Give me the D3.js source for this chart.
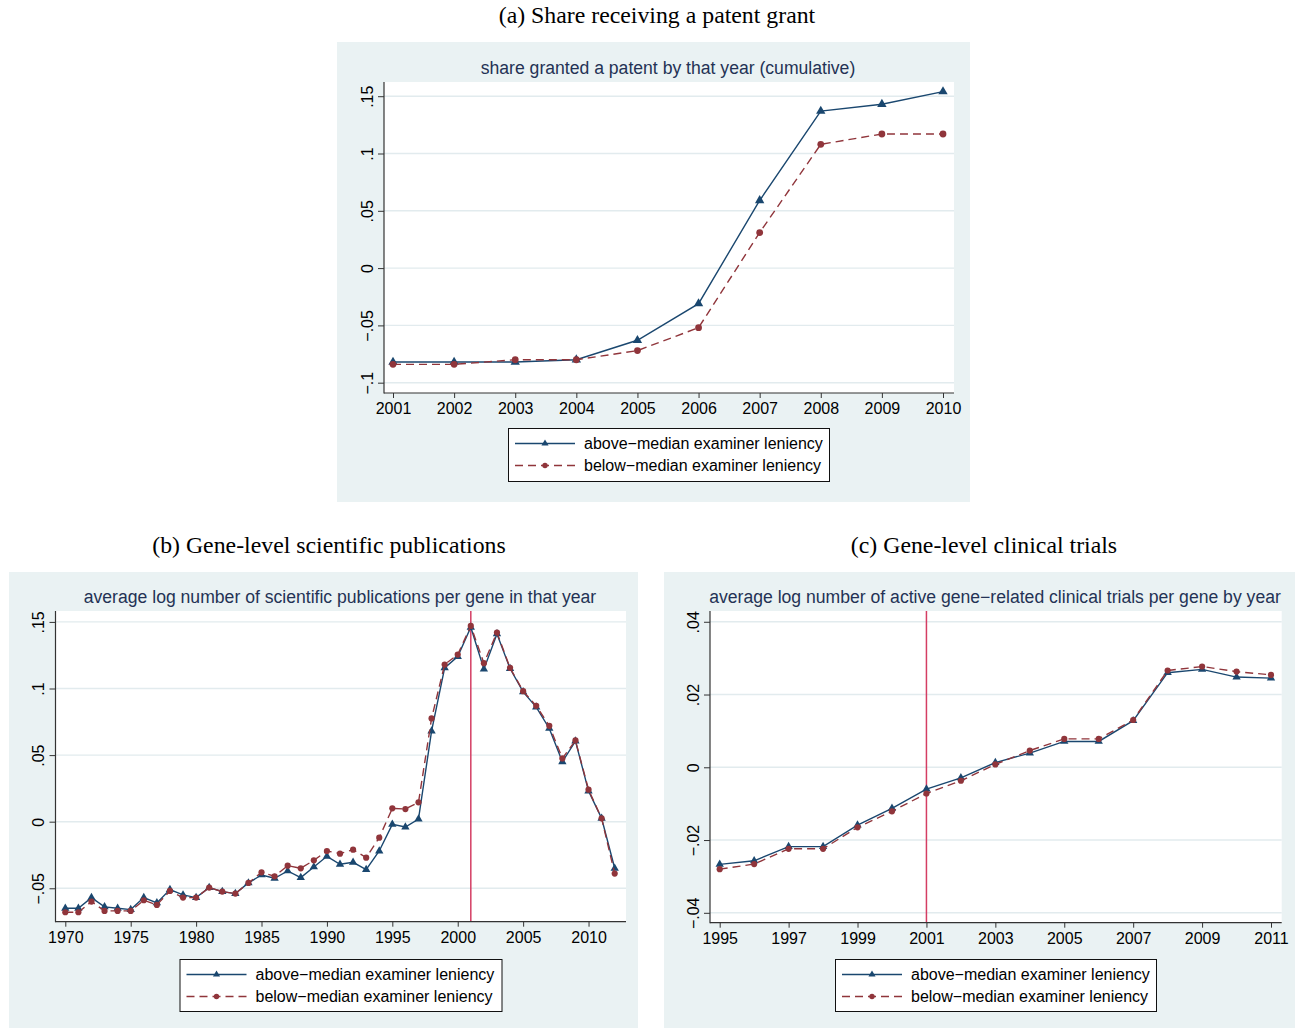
<!DOCTYPE html>
<html>
<head>
<meta charset="utf-8">
<script src="https://cdn.jsdelivr.net/npm/d3@7"></script>
<style>
  html, body { margin: 0; padding: 0; background: #ffffff; }
  svg { display: block; }
</style>
</head>
<body>
<svg id="fig" width="1295" height="1029"></svg>
<script>
// ---- Panel (a): share granted a patent by that year (cumulative) ----
const patentYears = [2001, 2002, 2003, 2004, 2005, 2006, 2007, 2008, 2009, 2010];
const patentAbove = [-0.082, -0.082, -0.082, -0.080, -0.063, -0.031, 0.059, 0.137, 0.143, 0.154];
const patentBelow = [-0.084, -0.084, -0.080, -0.080, -0.072, -0.052, 0.031, 0.108, 0.117, 0.117];
const patentXTicks = [2001, 2002, 2003, 2004, 2005, 2006, 2007, 2008, 2009, 2010];
const patentYTicks = [-0.1, -0.05, 0, 0.05, 0.1, 0.15];

// ---- Panel (b): average log number of publications per gene ----
const pubYears = [1970, 1971, 1972, 1973, 1974, 1975, 1976, 1977, 1978, 1979,
                  1980, 1981, 1982, 1983, 1984, 1985, 1986, 1987, 1988, 1989,
                  1990, 1991, 1992, 1993, 1994, 1995, 1996, 1997, 1998, 1999,
                  2000, 2001, 2002, 2003, 2004, 2005, 2006, 2007, 2008, 2009,
                  2010, 2011, 2012];
const pubAbove = [-0.065, -0.065, -0.057, -0.064, -0.065, -0.066, -0.057, -0.061, -0.051, -0.055,
                  -0.057, -0.0495, -0.0525, -0.054, -0.046, -0.040, -0.0425, -0.037, -0.042, -0.034,
                  -0.026, -0.032, -0.0305, -0.036, -0.022, -0.002, -0.004, 0.002, 0.068, 0.1155,
                  0.124, 0.146, 0.1145, 0.141, 0.115, 0.0975, 0.086, 0.070, 0.045, 0.0605,
                  0.023, 0.0025, -0.035];
const pubBelow = [-0.068, -0.068, -0.060, -0.067, -0.067, -0.067, -0.059, -0.0625, -0.052, -0.057,
                  -0.057, -0.0495, -0.0525, -0.054, -0.046, -0.038, -0.041, -0.033, -0.035, -0.029,
                  -0.022, -0.024, -0.021, -0.027, -0.012, 0.010, 0.0095, 0.0145, 0.0775, 0.118,
                  0.1255, 0.147, 0.119, 0.142, 0.1155, 0.098, 0.087, 0.072, 0.0475, 0.061,
                  0.024, 0.0025, -0.039];
const pubXTicks = [1970, 1975, 1980, 1985, 1990, 1995, 2000, 2005, 2010];
const pubYTicks = [-0.05, 0, 0.05, 0.1, 0.15];

// ---- Panel (c): average log number of active clinical trials per gene ----
const trialYears = [1995, 1996, 1997, 1998, 1999, 2000, 2001, 2002, 2003,
                    2004, 2005, 2006, 2007, 2008, 2009, 2010, 2011];
const trialAbove = [-0.0267, -0.0257, -0.0218, -0.0218, -0.0159, -0.0113, -0.0060, -0.0029, 0.0013,
                    0.0039, 0.0071, 0.0071, 0.0128, 0.0260, 0.0269, 0.0248, 0.0245];
const trialBelow = [-0.0280, -0.0266, -0.0224, -0.0224, -0.0165, -0.0121, -0.0072, -0.0037, 0.0008,
                    0.0046, 0.0078, 0.0078, 0.0130, 0.0266, 0.0277, 0.0263, 0.0254];
const trialXTicks = [1995, 1997, 1999, 2001, 2003, 2005, 2007, 2009, 2011];
const trialYTicks = [-0.04, -0.02, 0, 0.02, 0.04];

// Year in which the reference line is drawn (panels b and c)
const markerYear = 2001;

const seriesNames = ["above\u2212median examiner leniency", "below\u2212median examiner leniency"];

// ---- styling ----
const SANS = "'Liberation Sans', Arial, Helvetica, sans-serif";
const SERIF = "'Liberation Serif', 'Times New Roman', Times, serif";
const COL_BG = "#eaf2f3";
const COL_GRID = "#e2ebee";
const COL_NAVY = "#1a476f";
const COL_MAROON = "#90353b";
const COL_REF = "#d43d63";
const COL_TITLE = "#243255";
const FS_TICK = "16px";
const FS_TITLE = "17.6px";
const FS_CAPTION = "23.8px";

// Stata-style tick labels: ".05", "0", "−.05"
function stataFmt(v) {
  if (Math.abs(v) < 1e-12) return "0";
  let s = String(+v.toFixed(4));
  s = s.replace(/^(-?)0\./, "$1.");
  return s.replace("-", "\u2212");
}

const svg = d3.select("#fig");

function drawPanel(cfg) {
  const g = svg.append("g");

  // outer graph region
  g.append("rect")
    .attr("x", cfg.box.x).attr("y", cfg.box.y)
    .attr("width", cfg.box.w).attr("height", cfg.box.h)
    .attr("fill", COL_BG);

  // caption above the graph
  g.append("text")
    .attr("x", cfg.caption.x).attr("y", cfg.caption.y)
    .attr("text-anchor", "middle")
    .attr("font-family", SERIF).attr("font-size", FS_CAPTION)
    .attr("fill", "#000")
    .text(cfg.caption.text);

  // inner title
  g.append("text")
    .attr("x", cfg.title.x).attr("y", cfg.title.y)
    .attr("text-anchor", "middle")
    .attr("font-family", SANS).attr("font-size", FS_TITLE)
    .attr("fill", COL_TITLE)
    .text(cfg.title.text);

  const p = cfg.plot;
  // plot region
  g.append("rect")
    .attr("x", p.l).attr("y", p.t)
    .attr("width", p.r - p.l).attr("height", p.b - p.t)
    .attr("fill", "#ffffff");

  const x = d3.scaleLinear().domain(cfg.xDomain).range(cfg.xRange);
  const y = d3.scaleLinear().domain(cfg.yDomain).range([p.b, p.t]);

  // horizontal grid lines at the y ticks
  g.append("g").selectAll("line")
    .data(cfg.yTicks).join("line")
    .attr("x1", p.l).attr("x2", p.r)
    .attr("y1", d => y(d)).attr("y2", d => y(d))
    .attr("stroke", COL_GRID).attr("stroke-width", 1.4);

  // reference line
  if (cfg.refYear != null) {
    g.append("line")
      .attr("x1", x(cfg.refYear)).attr("x2", x(cfg.refYear))
      .attr("y1", p.t).attr("y2", p.b)
      .attr("stroke", COL_REF).attr("stroke-width", 1.5);
  }

  // y axis
  const yAxis = g.append("g")
    .attr("transform", `translate(${p.l},0)`)
    .call(d3.axisLeft(y).tickValues(cfg.yTicks).tickFormat(stataFmt)
      .tickSize(6).tickSizeOuter(0));
  yAxis.select(".domain").remove();
  yAxis.selectAll(".tick line").attr("stroke", "#333").attr("stroke-width", 1);
  yAxis.selectAll(".tick text")
    .attr("transform", "rotate(-90)")
    .attr("x", 0).attr("y", -11.5).attr("dy", 0)
    .attr("text-anchor", "middle")
    .attr("font-family", SANS).attr("font-size", FS_TICK)
    .attr("fill", "#000");

  // x axis
  const xAxis = g.append("g")
    .attr("transform", `translate(0,${p.b})`)
    .call(d3.axisBottom(x).tickValues(cfg.xTicks).tickFormat(d3.format("d"))
      .tickSize(5).tickSizeOuter(0));
  xAxis.select(".domain").remove();
  xAxis.selectAll(".tick line").attr("stroke", "#333").attr("stroke-width", 1);
  xAxis.selectAll(".tick text")
    .attr("y", 21).attr("dy", 0)
    .attr("font-family", SANS).attr("font-size", FS_TICK)
    .attr("fill", "#000");

  // axis lines spanning the plot region
  g.append("line")
    .attr("x1", p.l).attr("x2", p.l).attr("y1", p.t).attr("y2", p.b + 0.5)
    .attr("stroke", "#333").attr("stroke-width", 1.2);
  g.append("line")
    .attr("x1", p.l).attr("x2", p.r).attr("y1", p.b).attr("y2", p.b)
    .attr("stroke", "#333").attr("stroke-width", 1.2);

  const line = d3.line().x(d => x(d[0])).y(d => y(d[1]));
  const above = cfg.years.map((yr, i) => [yr, cfg.above[i]]);
  const below = cfg.years.map((yr, i) => [yr, cfg.below[i]]);
  const tri = d3.symbol().type(d3.symbolTriangle).size(cfg.triSize);

  // above-median series: solid navy with triangles
  g.append("path").datum(above)
    .attr("d", line).attr("fill", "none")
    .attr("stroke", COL_NAVY).attr("stroke-width", 1.4);
  g.append("g").selectAll("path")
    .data(above).join("path")
    .attr("transform", d => `translate(${x(d[0])},${y(d[1])})`)
    .attr("d", tri).attr("fill", COL_NAVY);

  // below-median series: dashed maroon with circles
  g.append("path").datum(below)
    .attr("d", line).attr("fill", "none")
    .attr("stroke", COL_MAROON).attr("stroke-width", 1.4)
    .attr("stroke-dasharray", "8,5");
  g.append("g").selectAll("circle")
    .data(below).join("circle")
    .attr("cx", d => x(d[0])).attr("cy", d => y(d[1]))
    .attr("r", cfg.dotR).attr("fill", COL_MAROON);

  // legend
  const L = cfg.legend;
  const lg = g.append("g").attr("transform", `translate(${L.x},${L.y})`);
  lg.append("rect")
    .attr("x", 0.5).attr("y", 0.5).attr("width", L.w).attr("height", L.h)
    .attr("fill", "#ffffff").attr("stroke", "#111").attr("stroke-width", 1);
  const rows = [15.5, 37.5];
  const legTri = d3.symbol().type(d3.symbolTriangle).size(22);
  // row 1
  lg.append("line")
    .attr("x1", 7).attr("x2", 67).attr("y1", rows[0]).attr("y2", rows[0])
    .attr("stroke", COL_NAVY).attr("stroke-width", 1.4);
  lg.append("path")
    .attr("transform", `translate(37,${rows[0]})`)
    .attr("d", legTri).attr("fill", COL_NAVY);
  // row 2
  lg.append("line")
    .attr("x1", 7).attr("x2", 67).attr("y1", rows[1]).attr("y2", rows[1])
    .attr("stroke", COL_MAROON).attr("stroke-width", 1.4)
    .attr("stroke-dasharray", "8,5");
  lg.append("circle")
    .attr("cx", 37).attr("cy", rows[1]).attr("r", 2.7).attr("fill", COL_MAROON);
  lg.selectAll("text.lab")
    .data(seriesNames).join("text")
    .attr("class", "lab")
    .attr("x", 76).attr("y", (d, i) => rows[i]).attr("dy", "0.36em")
    .attr("font-family", SANS).attr("font-size", FS_TICK)
    .attr("fill", "#000")
    .text(d => d);
}

drawPanel({
  box: { x: 337, y: 42, w: 633, h: 460 },
  caption: { x: 657, y: 23, text: "(a) Share receiving a patent grant" },
  title: { x: 668, y: 74, text: "share granted a patent by that year (cumulative)" },
  plot: { l: 384, r: 954, t: 82, b: 393 },
  xDomain: [2001, 2010], xRange: [393, 943],
  yDomain: [-0.109, 0.1624],
  xTicks: patentXTicks, yTicks: patentYTicks,
  years: patentYears, above: patentAbove, below: patentBelow,
  refYear: null,
  triSize: 38, dotR: 3.4,
  legend: { x: 508, y: 428, w: 321, h: 53 }
});

drawPanel({
  box: { x: 9, y: 572, w: 629, h: 456 },
  caption: { x: 329, y: 553, text: "(b) Gene-level scientific publications" },
  title: { x: 340, y: 603, text: "average log number of scientific publications per gene in that year" },
  plot: { l: 55.5, r: 626, t: 611, b: 921.7 },
  xDomain: [1970, 2012], xRange: [65.3, 614.7],
  yDomain: [-0.0751, 0.1582],
  xTicks: pubXTicks, yTicks: pubYTicks,
  years: pubYears, above: pubAbove, below: pubBelow,
  refYear: markerYear,
  triSize: 30, dotR: 3.1,
  legend: { x: 179.5, y: 959, w: 322, h: 52 }
});

drawPanel({
  box: { x: 664, y: 572, w: 631, h: 456 },
  caption: { x: 984, y: 553, text: "(c) Gene-level clinical trials" },
  title: { x: 995, y: 603, text: "average log number of active gene\u2212related clinical trials per gene by year" },
  plot: { l: 710, r: 1281.7, t: 611, b: 922.7 },
  xDomain: [1995, 2011], xRange: [719.7, 1271],
  yDomain: [-0.04272, 0.04296],
  xTicks: trialXTicks, yTicks: trialYTicks,
  years: trialYears, above: trialAbove, below: trialBelow,
  refYear: markerYear,
  triSize: 30, dotR: 3.1,
  legend: { x: 835, y: 959, w: 321, h: 52 }
});
</script>
</body>
</html>
